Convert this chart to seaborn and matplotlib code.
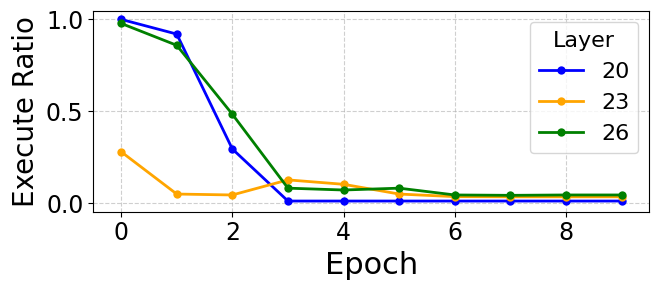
import matplotlib
matplotlib.use("Agg")
import matplotlib.pyplot as plt
import seaborn as sns
import pandas as pd

epochs = [0, 1, 2, 3, 4, 5, 6, 7, 8, 9]
layer20 = [1.0, 0.92, 0.295, 0.012, 0.012, 0.012, 0.012, 0.012, 0.012, 0.012]
layer23 = [0.28, 0.05, 0.045, 0.127, 0.103, 0.05, 0.036, 0.035, 0.035, 0.035]
layer26 = [0.978, 0.859, 0.484, 0.082, 0.072, 0.082, 0.045, 0.043, 0.045, 0.045]
layers = ["20", "23", "26"]
colors = ["blue", "orange", "green"]

df = pd.DataFrame({
    "Epoch": epochs * 3,
    "Execute Ratio": layer20 + layer23 + layer26,
    "Layer": [layers[0]] * len(epochs) + [layers[1]] * len(epochs) + [layers[2]] * len(epochs),
})

fig, ax = plt.subplots(figsize=(6.6, 2.9), dpi=100)
sns.lineplot(data=df, x="Epoch", y="Execute Ratio", hue="Layer",
             palette=dict(zip(layers, colors)), marker="o", markersize=6,
             markeredgewidth=0, linewidth=2, ax=ax)
ax.grid(True, linestyle="--", alpha=0.6)
ax.set_xlim(-0.5, 9.5)
ax.set_ylim(-0.046, 1.047)
ax.set_xticks([0, 2, 4, 6, 8])
ax.set_yticks([0.0, 0.5, 1.0])
ax.tick_params(labelsize=17)
ax.set_xlabel("Epoch", fontsize=22)
ax.set_ylabel("Execute Ratio", fontsize=20)
ax.legend(title="Layer", fontsize=16, title_fontsize=16, loc="upper right")
fig.subplots_adjust(left=0.1414, right=0.984, top=0.963, bottom=0.27)
fig.savefig("out.png", dpi=100)
